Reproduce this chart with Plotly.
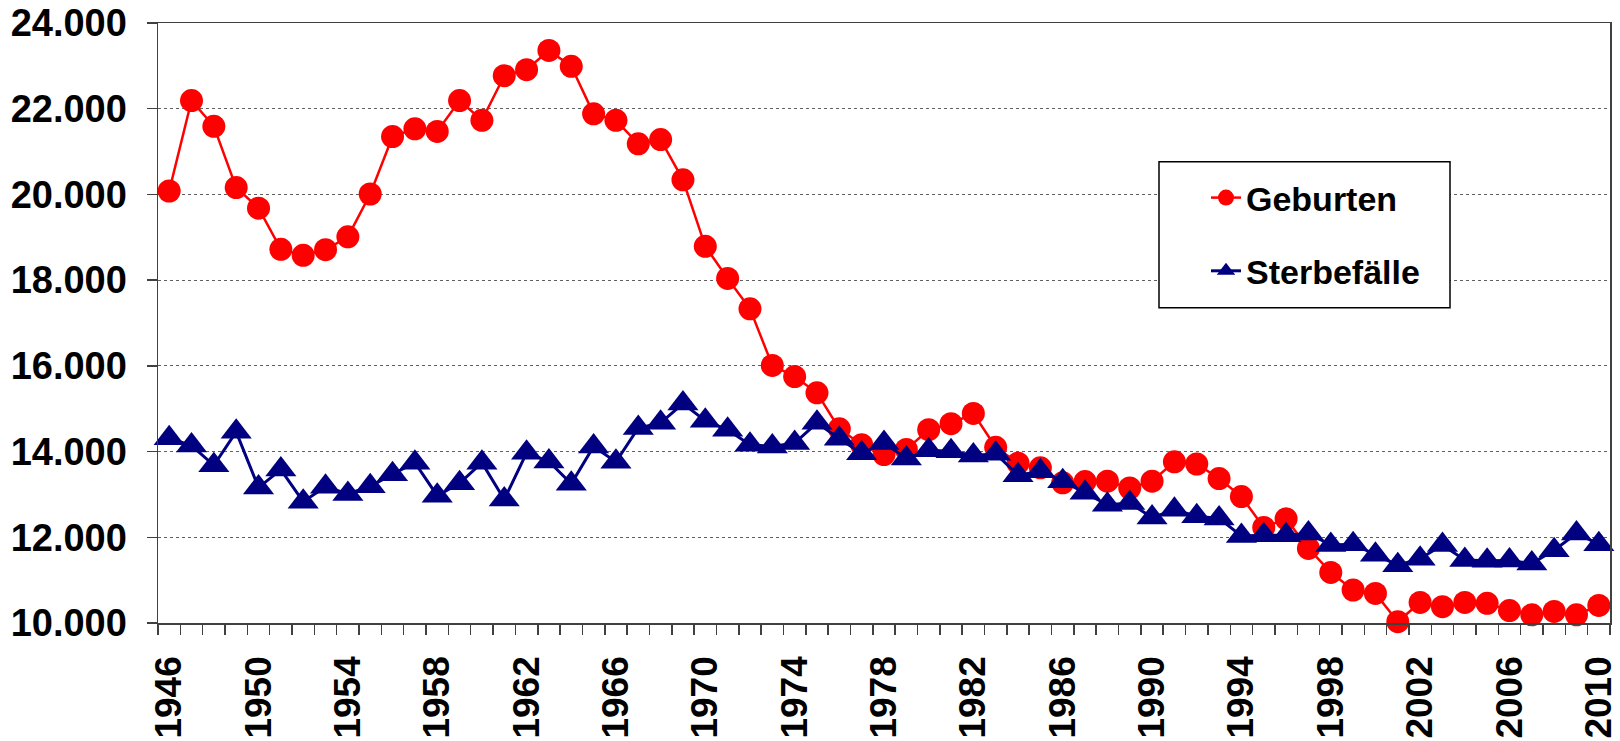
import plotly.graph_objects as go

# ---- data -------------------------------------------------------------
years = list(range(1946, 2011))

geburten = [20080, 22190, 21590, 20160, 19680, 18720, 18580, 18710, 19010, 20010,
            21350, 21530, 21470, 22190, 21730, 22770, 22910, 23360, 22990, 21880,
            21730, 21180, 21280, 20340, 18790, 18040, 17330, 16010, 15750, 15370,
            14530, 14160, 13930, 14050, 14510, 14650, 14890, 14100, 13730, 13620,
            13270, 13300, 13310, 13150, 13310, 13760, 13710, 13370, 12950, 12230,
            12430, 11740, 11180, 10770, 10690, 10030, 10480, 10380, 10480, 10460,
            10290, 10190, 10270, 10190, 10410]

sterbefaelle = [14310, 14140, 13680, 14460, 13160, 13580, 12830, 13180, 13010, 13190,
                13470, 13740, 12970, 13260, 13740, 12880, 13970, 13770, 13250, 14120,
                13760, 14550, 14670, 15120, 14720, 14510, 14160, 14120, 14200, 14670,
                14300, 13960, 14200, 13840, 14030, 14010, 13910, 13950, 13450, 13540,
                13310, 13040, 12760, 12800, 12460, 12640, 12490, 12440, 12030, 12050,
                12050, 12090, 11820, 11840, 11590, 11350, 11500, 11820, 11470, 11450,
                11460, 11390, 11700, 12090, 11840]

series_names = ["Geburten", "Sterbefälle"]
y_range = [10000, 24000]
y_dtick = 2000
x_label_start = 1946
x_label_step = 4

# ---- layout geometry ----------------------------------------------------
W, H = 1620, 741
ML, MR, MT, MB = 158, 10, 23, 118
PW, PH = W - ML - MR, H - MT - MB

def px_x(px):
    return (px - ML) / PW

def px_y(py):
    return (H - MB - py) / PH

FONT = "Liberation Sans, Arial, sans-serif"
AXIS_COL = "#404040"

fig = go.Figure()
fig.add_trace(go.Scatter(
    x=years, y=geburten, name=series_names[0], mode="lines+markers",
    legendgroup="g1",
    line=dict(color="#FF0000", width=2.5),
    marker=dict(symbol="circle", size=23, color="#FF0000"),
    cliponaxis=False,
))
fig.add_trace(go.Scatter(
    x=years, y=sterbefaelle, name=series_names[1], mode="lines+markers",
    legendgroup="g2",
    line=dict(color="#000080", width=3),
    marker=dict(symbol="triangle-up", size=27, color="#000080"),
    cliponaxis=False,
))

fig.update_layout(
    width=W, height=H,
    margin=dict(l=ML, r=MR, t=MT, b=MB, pad=0, autoexpand=False),
    paper_bgcolor="white", plot_bgcolor="white",
    separators=",.",
    font=dict(family=FONT, size=38, color="black", weight="bold"),
    showlegend=True,
    legend=dict(
        x=px_x(1206), y=px_y(169), xanchor="left", yanchor="top",
        bgcolor="rgba(0,0,0,0)", borderwidth=0,
        font=dict(family=FONT, size=34, color="black", weight="bold"),
        tracegroupgap=26, traceorder="grouped",
    ),
    shapes=[dict(
        type="rect", xref="paper", yref="paper",
        x0=px_x(1159), x1=px_x(1450), y0=px_y(307.7), y1=px_y(161.7),
        line=dict(color="black", width=1.5), fillcolor="white", layer="above",
    )],
)

fig.update_xaxes(
    type="linear", range=[years[0] - 0.5, years[-1] + 0.5],
    tick0=x_label_start, dtick=x_label_step, tickformat="d",
    tickangle=-90, ticks="outside", ticklen=10, tickcolor="rgba(0,0,0,0)",
    ticklabelstandoff=7,
    tickfont=dict(family=FONT, size=37, color="black", weight="bold"),
    minor=dict(ticks="outside", tick0=years[0] - 0.5, dtick=1, ticklen=10,
               tickcolor=AXIS_COL, tickwidth=1.5, showgrid=False),
    showgrid=False, zeroline=False,
    showline=True, linecolor=AXIS_COL, linewidth=1.5, mirror=True,
    automargin=False,
)
fig.update_yaxes(
    range=y_range, tick0=y_range[0], dtick=y_dtick, tickformat=",d",
    ticks="outside", ticklen=10, tickcolor=AXIS_COL, tickwidth=1.5,
    ticklabelstandoff=12,
    tickfont=dict(family=FONT, size=38, color="black", weight="bold"),
    showgrid=True, gridcolor="#606060", griddash="dot", gridwidth=1,
    zeroline=False,
    showline=True, linecolor=AXIS_COL, linewidth=1.5, mirror=True,
    automargin=False,
)

# remove the browser's default 8 px page margin so the figure fills the window
fig.write_html("out.html",
               config={"displayModeBar": False, "staticPlot": True},
               post_script="document.body.style.margin='0px';"
                           "document.body.style.overflow='hidden';")
